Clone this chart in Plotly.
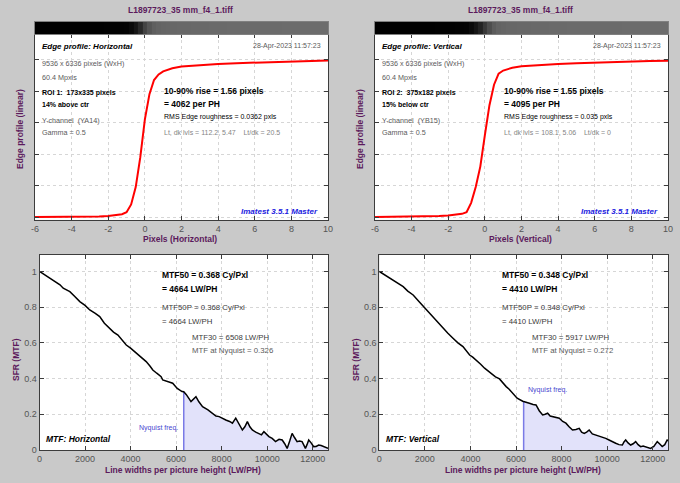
import plotly.graph_objects as go

W, H = 680, 483
FONT = "Liberation Sans"
PURPLE = "#5c1a5c"

# ---------------- data ----------------
file_title = "L1897723_35 mm_f4_1.tiff"
edge_x = [-6, -5, -4, -3, -2.5, -2, -1.75, -1.5, -1.25, -1, -0.75, -0.5, -0.25, 0,
          0.25, 0.5, 0.75, 1, 1.25, 1.5, 2, 3, 4, 5, 6, 7, 8, 9, 10]
edge_h = [0.0, 0.0, 0.0, 0.002, 0.004, 0.006, 0.009, 0.012, 0.018, 0.03, 0.08, 0.19, 0.38, 0.62,
          0.78, 0.87, 0.905, 0.925, 0.937, 0.945, 0.955, 0.965, 0.972, 0.977, 0.981, 0.985, 0.988, 0.991, 0.993]
edge_v = [0.0, 0.001, 0.002, 0.004, 0.007, 0.01, 0.012, 0.015, 0.02, 0.03, 0.09, 0.19, 0.32, 0.52,
          0.71, 0.84, 0.91, 0.93, 0.94, 0.948, 0.957, 0.966, 0.972, 0.977, 0.981, 0.985, 0.988, 0.99, 0.992]

mtf_h_lw = [0, 300, 678, 900, 1042, 1333, 1550, 1770, 2000, 2208, 2450, 2645, 2850, 3082, 3250, 3446,
            3650, 3811, 4000, 4248, 4450, 4686, 4850, 4977, 5150, 5342, 5413, 5600, 5850, 6050, 6260,
            6336, 6450, 6654, 6872, 7000, 7162, 7400, 7599, 7750, 7891, 8050, 8183, 8350, 8474, 8620,
            8780, 8911, 9020, 9130, 9240, 9349, 9500, 9640, 9750, 9858, 9970, 10077, 10220, 10368,
            10520, 10660, 10770, 10878, 10990, 11096, 11200, 11315, 11420, 11533, 11600, 11680, 11750,
            11825, 11930, 12044, 12150, 12262, 12370, 12481, 12560, 12672]
mtf_h = [1.0, 0.975, 0.943, 0.925, 0.906, 0.887, 0.86, 0.831, 0.81, 0.784, 0.765, 0.747, 0.71, 0.682,
         0.66, 0.644, 0.61, 0.588, 0.57, 0.542, 0.52, 0.495, 0.47, 0.448, 0.43, 0.411, 0.392, 0.385,
         0.374, 0.345, 0.327, 0.326, 0.31, 0.271, 0.299, 0.27, 0.243, 0.225, 0.205, 0.19, 0.187, 0.175,
         0.168, 0.16, 0.15, 0.178, 0.14, 0.112, 0.13, 0.159, 0.13, 0.112, 0.10, 0.093, 0.085, 0.103,
         0.09, 0.075, 0.065, 0.047, 0.06, 0.056, 0.035, 0.009, 0.05, 0.093, 0.07, 0.047, 0.05, 0.047,
         0.03, 0.009, 0.03, 0.056, 0.04, 0.019, 0.02, 0.028, 0.025, 0.019, 0.015, 0.009]

mtf_v_lw = [0, 250, 468, 750, 1049, 1250, 1486, 1750, 1998, 2200, 2361, 2600, 2798, 3000, 3235, 3450,
            3672, 3800, 3965, 4100, 4258, 4450, 4621, 4800, 4984, 5100, 5276, 5420, 5569, 5700, 5860,
            6050, 6295, 6336, 6450, 6588, 6750, 6880, 7020, 7170, 7280, 7388, 7500, 7607, 7750, 7900,
            8050, 8192, 8330, 8481, 8630, 8774, 8880, 8993, 9100, 9212, 9350, 9500, 9650, 9793, 9940,
            10085, 10230, 10377, 10520, 10669, 10740, 10815, 10920, 11033, 11140, 11252, 11360, 11470,
            11580, 11690, 11800, 11908, 12050, 12200, 12300, 12418, 12530, 12634, 12672]
mtf_v = [1.0, 0.98, 0.962, 0.94, 0.915, 0.89, 0.868, 0.83, 0.794, 0.77, 0.747, 0.71, 0.682, 0.655,
         0.626, 0.60, 0.579, 0.56, 0.532, 0.52, 0.504, 0.48, 0.458, 0.44, 0.42, 0.41, 0.398, 0.375,
         0.355, 0.34, 0.318, 0.29, 0.273, 0.272, 0.265, 0.262, 0.255, 0.252, 0.22, 0.196, 0.2, 0.206,
         0.19, 0.187, 0.18, 0.178, 0.16, 0.15, 0.13, 0.112, 0.115, 0.121, 0.10, 0.093, 0.1, 0.112, 0.09,
         0.084, 0.08, 0.075, 0.065, 0.056, 0.045, 0.038, 0.03, 0.028, 0.045, 0.056, 0.04, 0.028, 0.035,
         0.047, 0.03, 0.019, 0.022, 0.019, 0.015, 0.009, 0.02, 0.047, 0.035, 0.019, 0.03, 0.056, 0.05]

nyquist_lw = 6336
nyq_h = 0.326
nyq_v = 0.272
edge_yticks = [0, 0.2, 0.4, 0.6, 0.8, 1.0]
edge_xticks = [-6, -4, -2, 0, 2, 4, 6, 8, 10]
edge_xticklabels = ["-6", "-4", "-2", "0", "2", "4", "6", "8", "10"]
mtf_xticks = [0, 2000, 4000, 6000, 8000, 10000, 12000]
mtf_xticklabels = ["0", "2000", "4000", "6000", "8000", "10000", "12000"]
mtf_yticks = [0, 0.2, 0.4, 0.6, 0.8, 1.0]
mtf_yticklabels = ["0", "0.2", "0.4", "0.6", "0.8", "1"]

# ---------------- helpers ----------------
def px(x):
    return x / W

def py(y):
    return 1 - y / H

fig = go.Figure()

# edge profiles
fig.add_trace(go.Scatter(x=edge_x, y=edge_h, mode="lines", line=dict(color="#ff0000", width=2),
                         xaxis="x", yaxis="y", showlegend=False, hoverinfo="skip"))
fig.add_trace(go.Scatter(x=edge_x, y=edge_v, mode="lines", line=dict(color="#ff0000", width=2),
                         xaxis="x2", yaxis="y2", showlegend=False, hoverinfo="skip"))

# gradient bars (edge image)
grad_scale = [[0, "#000000"], [1, "#6c6c6c"]]
fig.add_trace(go.Heatmap(x=edge_x, y=[0.5], z=[edge_h], colorscale=grad_scale, zmin=0, zmax=0.99,
                         showscale=False, xaxis="x5", yaxis="y5", hoverinfo="skip"))
fig.add_trace(go.Heatmap(x=edge_x, y=[0.5], z=[edge_v], colorscale=grad_scale, zmin=0, zmax=0.99,
                         showscale=False, xaxis="x6", yaxis="y6", hoverinfo="skip"))

# MTF fills beyond Nyquist
for lw, m, ax, ay in [(mtf_h_lw, mtf_h, "x3", "y3"), (mtf_v_lw, mtf_v, "x4", "y4")]:
    fx = [a for a in lw if a >= nyquist_lw]
    fy = [b for a, b in zip(lw, m) if a >= nyquist_lw]
    fig.add_trace(go.Scatter(x=fx, y=fy, mode="lines", line=dict(width=0, color="rgba(0,0,0,0)"),
                             fill="tozeroy", fillcolor="#e2e2fa", xaxis=ax, yaxis=ay,
                             showlegend=False, hoverinfo="skip"))
fig.add_trace(go.Scatter(x=[nyquist_lw, nyquist_lw], y=[0, nyq_h], mode="lines",
                         line=dict(color="#7a7ae6", width=1.5), xaxis="x3", yaxis="y3",
                         showlegend=False, hoverinfo="skip"))
fig.add_trace(go.Scatter(x=[nyquist_lw, nyquist_lw], y=[0, nyq_v], mode="lines",
                         line=dict(color="#7a7ae6", width=1.5), xaxis="x4", yaxis="y4",
                         showlegend=False, hoverinfo="skip"))
fig.add_trace(go.Scatter(x=mtf_h_lw, y=mtf_h, mode="lines", line=dict(color="#000000", width=1.5),
                         xaxis="x3", yaxis="y3", showlegend=False, hoverinfo="skip"))
fig.add_trace(go.Scatter(x=mtf_v_lw, y=mtf_v, mode="lines", line=dict(color="#000000", width=1.5),
                         xaxis="x4", yaxis="y4", showlegend=False, hoverinfo="skip"))

tickfont = dict(family=FONT, size=9, color="#555555")
common = dict(showline=True, linecolor="#3c3c3c", linewidth=1, mirror="allticks", ticks="inside",
              ticklen=4, tickcolor="#3c3c3c", showgrid=True, gridcolor="#d6d6d6", griddash="dot",
              gridwidth=1, zeroline=False, tickfont=tickfont, fixedrange=True, automargin=False)

top_dom_y = [py(220), py(34)]
bar_dom_y = [py(34), py(22)]
bot_dom_y = [py(450), py(255)]
dl = [px(35), px(328)]
dr = [px(375), px(668)]
bl = [px(39.5), px(328)]
br = [px(379.3), px(668)]

layout = dict(
    width=W, height=H, margin=dict(l=0, r=0, t=0, b=0, autoexpand=False),
    paper_bgcolor="#c9c9c9", plot_bgcolor="#ffffff",
    font=dict(family=FONT),
    showlegend=False,
)
layout["xaxis"] = dict(domain=dl, anchor="y", range=[-6, 10], tickvals=edge_xticks,
                       ticktext=edge_xticklabels, **common)
layout["yaxis"] = dict(domain=top_dom_y, anchor="x", range=[-0.019, 1.162], tickvals=edge_yticks,
                       showticklabels=False, **common)
layout["xaxis2"] = dict(domain=dr, anchor="y2", range=[-6, 10], tickvals=edge_xticks,
                        ticktext=edge_xticklabels, **common)
layout["yaxis2"] = dict(domain=top_dom_y, anchor="x2", range=[-0.019, 1.162], tickvals=edge_yticks,
                        showticklabels=False, **common)
layout["xaxis3"] = dict(domain=bl, anchor="y3", range=[0, 12672], tickvals=mtf_xticks,
                        ticktext=mtf_xticklabels, **common)
layout["yaxis3"] = dict(domain=bot_dom_y, anchor="x3", range=[0, 1.092], tickvals=mtf_yticks,
                        ticktext=mtf_yticklabels, **common)
layout["xaxis4"] = dict(domain=br, anchor="y4", range=[0, 12672], tickvals=mtf_xticks,
                        ticktext=mtf_xticklabels, **common)
layout["yaxis4"] = dict(domain=bot_dom_y, anchor="x4", range=[0, 1.092], tickvals=mtf_yticks,
                        ticktext=mtf_yticklabels, **common)
bar_ax = dict(showline=True, linecolor="#808080", mirror=True, showticklabels=False, ticks="",
              showgrid=False, zeroline=False, fixedrange=True, automargin=False)
layout["xaxis5"] = dict(domain=dl, anchor="y5", range=[-6, 10], **bar_ax)
layout["yaxis5"] = dict(domain=bar_dom_y, anchor="x5", range=[0, 1], **bar_ax)
layout["xaxis6"] = dict(domain=dr, anchor="y6", range=[-6, 10], **bar_ax)
layout["yaxis6"] = dict(domain=bar_dom_y, anchor="x6", range=[0, 1], **bar_ax)
fig.update_layout(**layout)

anns = []

def ann(x, y, text, size=7.5, color="#000000", xanchor="left", angle=0):
    anns.append(dict(x=px(x), y=py(y), xref="paper", yref="paper", text=text, showarrow=False,
                     xanchor=xanchor, yanchor="middle", textangle=angle,
                     font=dict(family=FONT, size=size, color=color)))

GRAY = "#5a5a5a"
LGRAY = "#858585"

panels_top = [
    (0, "Horizontal", "ROI 1:  173x335 pixels", "14% above ctr", "Y-channel  (YA14)",
     "1.56", "4062", "0.0362", "Lt, dk lvls = 112.2, 5.47    Lt/dk = 20.5"),
    (340, "Vertical", "ROI 2:  375x182 pixels", "15% below ctr", "Y-channel  (YB15)",
     "1.55", "4095", "0.035", "Lt, dk lvls = 108.1, 5.06    Lt/dk = 0"),
]
for ox, orient, roi, pos, chan, rise, perph, rms, lt in panels_top:
    ann(ox + 180, 10, "<b>" + file_title + "</b>", size=8.5, color=PURPLE, xanchor="center")
    ann(ox + 40, 46, "<b><i>Edge profile: " + orient + "</i></b>", size=8)
    ann(ox + 323, 46, "28-Apr-2023 11:57:23", size=7, color=GRAY, xanchor="right")
    ann(ox + 40, 63, "9536 x 6336 pixels (WxH)", size=7.2, color=GRAY)
    ann(ox + 40, 77, "60.4 Mpxls", size=7.2, color=GRAY)
    ann(ox + 40, 93, "<b>" + roi + "</b>", size=7)
    ann(ox + 40, 105, "<b>" + pos + "</b>", size=7)
    ann(ox + 40, 120, chan, size=7.2, color=GRAY)
    ann(ox + 40, 132, "Gamma = 0.5", size=7.2, color=GRAY)
    ann(ox + 162, 91.5, "<b>10-90% rise = " + rise + " pixels</b>", size=8.5)
    ann(ox + 162, 103.5, "<b>= " + perph + " per PH</b>", size=8.5)
    ann(ox + 162, 117, "RMS Edge roughness = " + rms + " pxls", size=7)
    ann(ox + 162, 132.5, lt, size=7, color=LGRAY)
    ann(ox + 320, 211, "<b><i>Imatest 3.5.1 Master</i></b>", size=8, color="#1a1ae0", xanchor="right")
    ann(ox + 180, 239.5, "<b>Pixels (" + orient + ")</b>", size=8.5, color=PURPLE, xanchor="center")
    ann(ox + 20, 129, "<b>Edge profile (linear)</b>", size=8.5, color=PURPLE, xanchor="center", angle=-90)

panels_bot = [
    (0, "Horizontal", "0.368", "4664", "6508", "0.326"),
    (340, "Vertical", "0.348", "4410", "5917", "0.272"),
]
for ox, orient, cy, lwph, m30, nq in panels_bot:
    ann(ox + 160, 275, "<b>MTF50 = " + cy + " Cy/Pxl</b>", size=8.5)
    ann(ox + 160, 288.5, "<b>= " + lwph + " LW/PH</b>", size=8.5)
    ann(ox + 160, 307.5, "MTF50P = " + cy + " Cy/Pxl", size=7.8, color="#3a3a3a")
    ann(ox + 160, 321, "= " + lwph + " LW/PH", size=7.8, color="#3a3a3a")
    ann(ox + 189.5, 337.5, "MTF30 = " + m30 + " LW/PH", size=7.8, color="#3a3a3a")
    ann(ox + 189.5, 350, "MTF at Nyquist = " + nq, size=7.8, color=GRAY)
    ann(ox + 44, 439, "<b><i>MTF: " + orient + "</i></b>", size=8.5)
    ann(ox + 183, 469.5, "<b>Line widths per picture height (LW/PH)</b>", size=8.5, color=PURPLE,
        xanchor="center")
    ann(ox + 16, 360, "<b>SFR (MTF)</b>", size=8.5, color=PURPLE, xanchor="center", angle=-90)

ann(180, 427.5, "Nyquist freq.", size=7, color="#4848d0", xanchor="right")
ann(525.5, 389.5, "Nyquist freq.", size=7, color="#4848d0", xanchor="left")

fig.update_layout(annotations=anns)
fig.write_html("out.html", config={"displayModeBar": False},
               post_script="document.body.style.margin='0';document.body.style.background='#c9c9c9';")
